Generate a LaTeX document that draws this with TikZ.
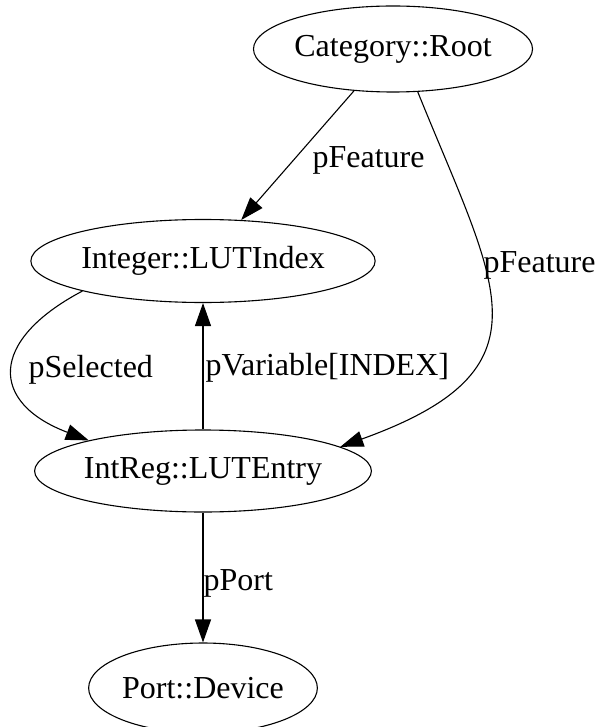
\documentclass[tikz,border=0pt]{standalone}
\usepackage{fontspec}
\setmainfont{Liberation Serif}
\usetikzlibrary{shapes.geometric,arrows.meta}

\begin{document}
\begin{tikzpicture}[x=1pt,y=-1pt,
  font=\fontsize{32}{38}\selectfont,
  line width=1.1pt,
  >={Triangle[length=23pt,width=16pt]},
  entity/.style={draw,ellipse,inner sep=0pt},
  edge label/.style={anchor=west,inner sep=0pt}]

\useasboundingbox (0,0) rectangle (603,727);

\node[entity,minimum width=264pt,minimum height=86pt](category root) at (393,49) {Category::Root};

\node[entity,minimum width=306pt,minimum height=83pt](integer lutindex) at (203,261) {Integer::LUTIndex};

\node[entity,minimum width=302pt,minimum height=82pt](intreg lutentry) at (203,471) {IntReg::LUTEntry};

\node[entity,minimum width=220pt,minimum height=90pt](port device) at (203,688) {Port::Device};

\node[edge label](feature label) at (312,160) {pFeature};
\node[edge label](feature label right) at (483,265) {pFeature};
\node[edge label](selected label) at (28,370) {pSelected};
\node[edge label](variable label) at (205,368) {pVariable[INDEX]};
\node[edge label](port label) at (203,583) {pPort};

\draw[->,draw=black] (category root.227) to (integer lutindex.47);
\draw[->,draw=black] (category root.300) .. controls (497,288) and (556,369) .. (intreg lutentry.10);

\draw[->,draw=black] (integer lutindex.194) .. controls (-12,341) and (-10,403) .. (intreg lutentry.165);
\draw[->,draw=black] (intreg lutentry) to (integer lutindex);

\draw[->,draw=black] (intreg lutentry) to (port device);

\end{tikzpicture}
\end{document}
